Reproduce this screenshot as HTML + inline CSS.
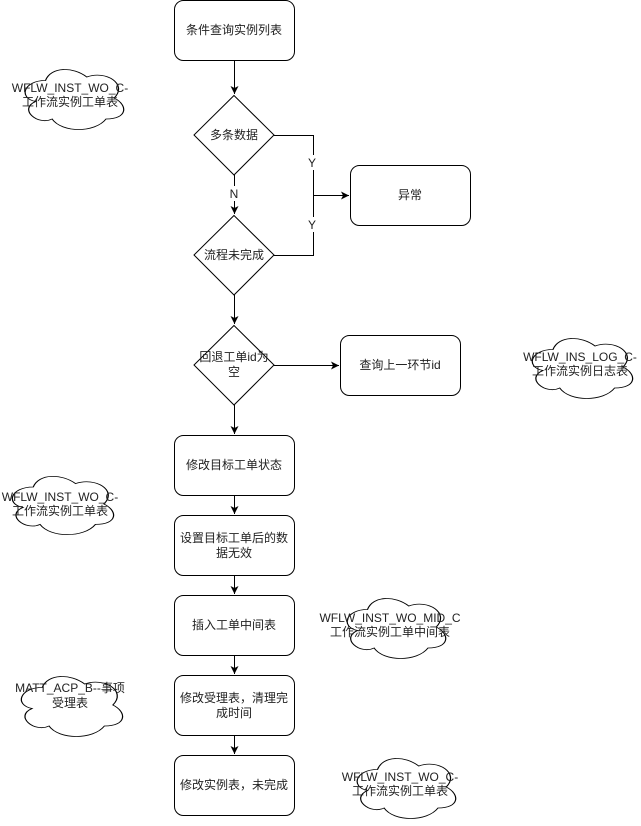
<!DOCTYPE html>
<html><head><meta charset="utf-8"><style>
html,body{margin:0;padding:0;background:#fff;}
svg{display:block;}
text{font-family:"Liberation Sans","Noto Sans CJK SC",sans-serif;font-size:12px;fill:#222;text-anchor:middle;}
</style></head><body>
<svg width="641" height="826" viewBox="0 0 641 826" xmlns="http://www.w3.org/2000/svg">
<defs>
<marker id="a" markerWidth="10" markerHeight="10" refX="8" refY="5" orient="auto" markerUnits="userSpaceOnUse">
<path d="M0,1 L8,5 L0,9 L2,5 Z" fill="#000"/>
</marker>
<path id="cl" d="M25,25 C5,25 0,50 16,55 C0,66 18,90 31,80 C40,100 70,100 80,80 C100,80 100,60 87.5,50 C100,30 80,10 62.5,20 C50,5 30,5 25,25 Z"/>
</defs>
<g fill="none" stroke="#000" stroke-width="1">
<rect x="174.5" y="0.5" width="120" height="60" rx="9"/>
<path d="M234,95.5 L274,135 L234,175 L194,135 Z" fill="#fff"/>
<path d="M234,215.5 L274,255 L234,295 L194,255 Z" fill="#fff"/>
<path d="M234,325.5 L274,365 L234,405 L194,365 Z" fill="#fff"/>
<rect x="350.5" y="165.5" width="120" height="60" rx="9"/>
<rect x="340.5" y="335.5" width="120" height="60" rx="9"/>
<rect x="174.5" y="435.5" width="120" height="60" rx="9"/>
<rect x="174.5" y="515.5" width="120" height="60" rx="9"/>
<rect x="174.5" y="595.5" width="120" height="60" rx="9"/>
<rect x="174.5" y="675.5" width="120" height="60" rx="9"/>
<rect x="174.5" y="755.5" width="120" height="60" rx="9"/>
<path d="M234.5,61 L234.5,94" marker-end="url(#a)"/>
<path d="M234.5,175 L234.5,214" marker-end="url(#a)"/>
<path d="M234.5,295 L234.5,324" marker-end="url(#a)"/>
<path d="M234.5,405 L234.5,434" marker-end="url(#a)"/>
<path d="M234.5,496 L234.5,514" marker-end="url(#a)"/>
<path d="M234.5,576 L234.5,594" marker-end="url(#a)"/>
<path d="M234.5,656 L234.5,674" marker-end="url(#a)"/>
<path d="M234.5,736 L234.5,754" marker-end="url(#a)"/>
<path d="M274,135.5 L313.5,135.5 L313.5,195.5 L349,195.5" marker-end="url(#a)"/>
<path d="M274,255.5 L313.5,255.5 L313.5,195.5"/>
<path d="M274,365.5 L339,365.5" marker-end="url(#a)"/>
<use href="#cl" transform="translate(18,63) scale(1.1,0.7)" stroke-width="1.1"/>
<use href="#cl" transform="translate(525,332) scale(1.12,0.7)" stroke-width="1.1"/>
<use href="#cl" transform="translate(5,470) scale(1.13,0.68)" stroke-width="1.1"/>
<use href="#cl" transform="translate(340,592) scale(1.1,0.7)" stroke-width="1.1"/>
<use href="#cl" transform="translate(14,670) scale(1.13,0.7)" stroke-width="1.1"/>
<use href="#cl" transform="translate(350,752) scale(1.1,0.7)" stroke-width="1.1"/>
</g>
<rect x="306" y="155" width="14" height="15" fill="#fff"/>
<rect x="306" y="217" width="14" height="15" fill="#fff"/>
<rect x="228" y="186" width="14" height="15" fill="#fff"/>
<text x="312" y="167">Y</text>
<text x="312" y="229">Y</text>
<text x="234" y="198">N</text>
<text x="234" y="34">条件查询实例列表</text>
<text x="234" y="139">多条数据</text>
<text x="234" y="259">流程未完成</text>
<text x="234" y="361">回退工单id为</text>
<text x="234" y="376">空</text>
<text x="410" y="199">异常</text>
<text x="400" y="369">查询上一环节id</text>
<text x="234" y="469">修改目标工单状态</text>
<text x="234" y="542">设置目标工单后的数</text>
<text x="234" y="557">据无效</text>
<text x="234" y="629">插入工单中间表</text>
<text x="234" y="702">修改受理表，清理完</text>
<text x="234" y="717">成时间</text>
<text x="234" y="789">修改实例表，未完成</text>
<text x="70" y="92">WFLW_INST_WO_C-</text>
<text x="70" y="106">工作流实例工单表</text>
<text x="580" y="361">WFLW_INS_LOG_C-</text>
<text x="580" y="375">工作流实例日志表</text>
<text x="60" y="501">WFLW_INST_WO_C-</text>
<text x="60" y="515">工作流实例工单表</text>
<text x="390" y="622">WFLW_INST_WO_MID_C</text>
<text x="390" y="636">工作流实例工单中间表</text>
<text x="70" y="692">MATT_ACP_B--事项</text>
<text x="70" y="707">受理表</text>
<text x="400" y="781">WFLW_INST_WO_C-</text>
<text x="400" y="795">工作流实例工单表</text>
</svg>
</body></html>
